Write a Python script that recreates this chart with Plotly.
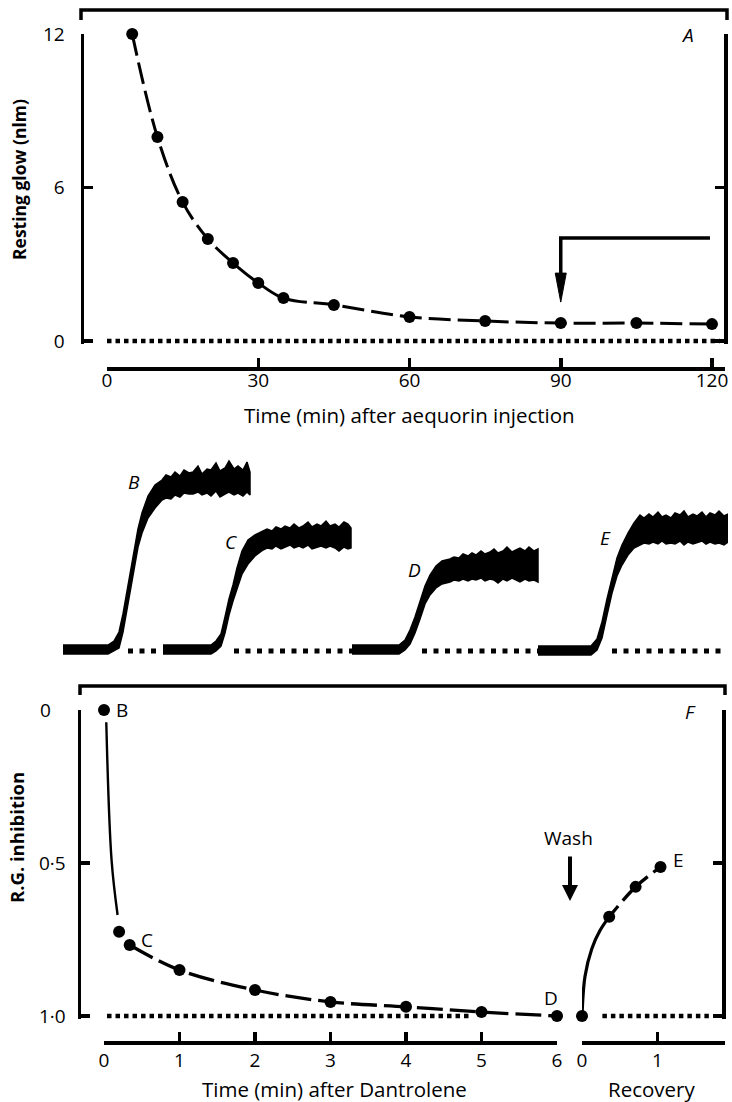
import plotly.graph_objects as go

W, H = 732, 1102


def xp(p):
    return p / W


def yp(p):
    return 1 - p / H


FONT = "Open Sans"
INK = "black"

# ---------------- Panel A : resting glow vs time ----------------
a_time = [5, 10, 15, 20, 25, 30, 35, 45, 60, 75, 90, 105, 120]
a_glow = [12.0, 7.97, 5.43, 3.99, 3.05, 2.27, 1.68, 1.41, 0.94, 0.78, 0.70, 0.70, 0.66]
a_xticks = [0, 30, 60, 90, 120]
a_yticks = [0, 6, 12]
a_zero_span = [0, 121.6]
a_arrow_x = 90
a_arrow_level = 4.03
a_arrow_tip = 1.52
a_arrow_end = 119.6

# ---------------- Records B-E : light traces (t in s, glow in a.u.) ----------------
rec_labels = ["B", "C", "D", "E"]
rec_B_t = [0, 4.5, 5.1, 5.6, 6.0, 6.5, 7.0, 7.5, 7.9, 8.5, 9.2,
           9.9, 10.3, 10.8, 11.2, 11.7, 12.1, 12.6, 13.0, 13.5, 13.9, 14.4,
           14.8, 15.3, 15.7, 16.2, 16.6, 17.1, 17.5, 18.0, 18.4, 18.7]
rec_B_hi = [0.5, 0.5, 0.9, 1.8, 3.6, 6.4, 9.3, 12.1, 13.7, 15.4, 16.5,
            17.0, 17.5, 17.3, 17.8, 17.4, 18.0, 17.7, 17.8, 18.4, 17.6, 18.1,
            18.0, 18.7, 17.9, 18.2, 18.9, 18.1, 18.4, 18.0, 18.8, 17.8]
rec_B_lo = [-0.4, -0.4, -0.1, 0.2, 1.8, 4.6, 7.5, 10.3, 11.7, 13.2, 14.2,
            15.0, 15.2, 15.1, 15.5, 15.3, 15.7, 15.6, 15.6, 15.8, 15.5, 15.7,
            15.4, 15.9, 15.3, 15.6, 15.8, 15.5, 15.7, 15.4, 15.8, 15.5]

rec_C_t = [0, 4.8, 5.3, 5.8, 6.2, 6.6, 7.0, 7.4, 7.9, 8.5, 9.2,
           10.0, 10.4, 10.9, 11.3, 11.8, 12.2, 12.7, 13.1, 13.6, 14.0, 14.5,
           14.9, 15.4, 15.8, 16.3, 16.7, 17.2, 17.6, 18.1, 18.5, 18.8]
rec_C_hi = [0.5, 0.5, 0.9, 1.6, 3.3, 5.1, 6.5, 8.2, 9.9, 11.0, 11.5,
            11.9, 12.1, 11.9, 12.3, 12.1, 12.4, 12.2, 12.6, 12.2, 12.4, 12.8,
            12.3, 12.6, 12.4, 12.9, 12.4, 12.6, 12.3, 12.8, 12.6, 12.2]
rec_C_lo = [-0.4, -0.4, -0.1, 0.4, 1.7, 3.5, 4.9, 6.2, 7.6, 8.6, 9.4,
            10.0, 10.2, 10.1, 10.4, 10.1, 10.3, 10.5, 10.2, 10.4, 10.2, 10.5,
            10.1, 10.3, 10.4, 10.2, 10.4, 10.2, 9.9, 10.3, 10.1, 10.2]

rec_D_t = [0, 4.7, 5.3, 5.8, 6.3, 6.8, 7.3, 7.8, 8.4, 9.0,
           9.8, 10.2, 10.7, 11.1, 11.6, 12.0, 12.4, 12.9, 13.3, 13.8, 14.2,
           14.6, 15.1, 15.5, 16.0, 16.4, 16.8, 17.3, 17.7, 18.2, 18.6]
rec_D_hi = [0.5, 0.5, 1.0, 2.0, 3.3, 4.9, 6.4, 7.5, 8.4, 8.9,
            9.1, 9.3, 9.2, 9.6, 9.4, 9.7, 9.5, 9.9, 9.6, 9.8, 10.1,
            9.7, 9.9, 10.3, 9.8, 10.0, 10.2, 9.9, 10.3, 9.9, 10.1]
rec_D_lo = [-0.4, -0.4, 0.0, 0.6, 1.7, 3.1, 4.6, 5.5, 6.2, 6.6,
            6.8, 7.0, 6.9, 7.1, 6.9, 7.1, 7.0, 7.2, 6.9, 7.1, 7.0,
            6.7, 7.1, 6.9, 7.2, 7.0, 6.8, 7.1, 6.9, 7.0, 6.8]

rec_E_t = [0, 5.3, 5.9, 6.4, 6.9, 7.4, 7.9, 8.4, 9.0, 9.6,
           10.2, 10.6, 11.1, 11.5, 12.0, 12.4, 12.8, 13.3, 13.7, 14.2, 14.6,
           15.0, 15.5, 15.9, 16.4, 16.8, 17.2, 17.7, 18.1, 18.6, 19.0]
rec_E_hi = [0.4, 0.4, 1.1, 2.8, 5.1, 7.3, 9.2, 10.5, 11.7, 12.7,
            13.5, 13.2, 13.6, 13.3, 13.8, 13.3, 13.5, 13.2, 13.7, 13.5, 13.9,
            13.3, 13.6, 13.4, 13.8, 13.3, 13.7, 13.5, 13.9, 13.4, 13.6]
rec_E_lo = [-0.5, -0.5, 0.0, 1.2, 3.5, 5.7, 7.4, 8.5, 9.5, 10.2,
            10.5, 10.7, 10.6, 10.8, 10.6, 10.9, 10.6, 10.7, 10.6, 10.9, 10.5,
            10.8, 10.6, 10.7, 10.9, 10.6, 10.8, 10.6, 10.7, 10.5, 10.8]

rec_dots_from = [6.5, 7.1, 7.0, 7.4]
rec_dots_to = [9.3, 18.9, 18.6, 18.8]
rec_label_t = [7.1, 6.8, 6.2, 6.7]
rec_label_y = [16.8, 10.8, 8.0, 11.2]

# ---------------- Panel F : R.G. inhibition ----------------
f_time = [0, 0.2, 0.34, 1, 2, 3, 4, 5, 6]
f_inhib = [0.0, 0.725, 0.768, 0.85, 0.915, 0.954, 0.97, 0.987, 1.0]
f_fast_t = [0.03, 0.10, 0.18]
f_fast_y = [0.04, 0.49, 0.67]
f_xticks = [0, 1, 2, 3, 4, 5, 6]
f_yticks = [0, 0.5, 1.0]
f_yticktext = ["0\u00a0\u00a0\u00a0", "0·5", "1·0"]
f_dot_span = [0.04, 4.85]

r_time = [0, 0.36, 0.71, 1.04]
r_inhib = [1.0, 0.676, 0.578, 0.513]
r_fast_t = [0.0, 0.04, 0.13, 0.24, 0.36]
r_fast_y = [1.0, 0.87, 0.78, 0.72, 0.676]
r_xticks = [0, 1]
r_dot_span = [0.27, 1.68]

point_labels = {"B": (0.24, 0.0), "C": (0.57, 0.75), "D": (5.92, 0.94)}
e_label = (1.28, 0.49)

# ---------------- figure ----------------
fig = go.Figure()

# empty traces so that the frame subplots (carrying the left/right y axes) exist
fig.add_trace(go.Scatter(x=[], y=[], xaxis="x", yaxis="y", mode="lines"))
fig.add_trace(go.Scatter(x=[], y=[], xaxis="x3", yaxis="y3", mode="lines"))

dot_line = dict(color=INK, width=4.5, dash="4.5px,4px")

# Panel A traces (x2 / y)
fig.add_trace(go.Scatter(x=a_zero_span, y=[0, 0], xaxis="x2", yaxis="y", mode="lines",
                         line=dot_line))
fig.add_trace(go.Scatter(x=a_time, y=a_glow, xaxis="x2", yaxis="y", mode="lines",
                         line=dict(color=INK, width=3, shape="spline", dash="22px,7px")))
fig.add_trace(go.Scatter(x=a_time, y=a_glow, xaxis="x2", yaxis="y", mode="markers",
                         marker=dict(color=INK, size=12), cliponaxis=False))
fig.add_trace(go.Scatter(x=[a_arrow_end, a_arrow_x, a_arrow_x],
                         y=[a_arrow_level, a_arrow_level, a_arrow_tip + 0.9],
                         xaxis="x2", yaxis="y", mode="lines",
                         line=dict(color=INK, width=3.5)))

# Records
rec_t = [rec_B_t, rec_C_t, rec_D_t, rec_E_t]
rec_hi = [rec_B_hi, rec_C_hi, rec_D_hi, rec_E_hi]
rec_lo = [rec_B_lo, rec_C_lo, rec_D_lo, rec_E_lo]
rec_origin_px = [63, 163, 352, 538]
rec_width_px = 190
for i in range(4):
    xa = "x%d" % (6 + i)
    t, hi, lo = rec_t[i], rec_hi[i], rec_lo[i]
    fig.add_trace(go.Scatter(x=t + t[::-1], y=hi + lo[::-1], xaxis=xa, yaxis="y6",
                             mode="lines", fill="toself", fillcolor=INK,
                             line=dict(color=INK, width=1.5)))
    fig.add_trace(go.Scatter(x=[rec_dots_from[i], rec_dots_to[i]], y=[-0.1, -0.1],
                             xaxis=xa, yaxis="y6", mode="lines",
                             line=dict(color=INK, width=5, dash="5px,6.5px")))

# Panel F (x4 / y3) and recovery (x5 / y3)
fig.add_trace(go.Scatter(x=f_dot_span, y=[1, 1], xaxis="x4", yaxis="y3", mode="lines",
                         line=dot_line))
fig.add_trace(go.Scatter(x=f_fast_t, y=f_fast_y, xaxis="x4", yaxis="y3", mode="lines",
                         line=dict(color=INK, width=2.4, shape="spline")))
fig.add_trace(go.Scatter(x=f_time[2:], y=f_inhib[2:], xaxis="x4", yaxis="y3", mode="lines",
                         line=dict(color=INK, width=3.3, shape="spline", dash="26px,7px")))
fig.add_trace(go.Scatter(x=f_time, y=f_inhib, xaxis="x4", yaxis="y3", mode="markers",
                         marker=dict(color=INK, size=12), cliponaxis=False))

fig.add_trace(go.Scatter(x=r_dot_span, y=[1, 1], xaxis="x5", yaxis="y3", mode="lines",
                         line=dot_line))
fig.add_trace(go.Scatter(x=r_fast_t, y=r_fast_y, xaxis="x5", yaxis="y3", mode="lines",
                         line=dict(color=INK, width=3.2, shape="spline")))
fig.add_trace(go.Scatter(x=r_time[1:], y=r_inhib[1:], xaxis="x5", yaxis="y3", mode="lines",
                         line=dict(color=INK, width=3.3, shape="spline", dash="14px,7px")))
fig.add_trace(go.Scatter(x=r_time, y=r_inhib, xaxis="x5", yaxis="y3", mode="markers",
                         marker=dict(color=INK, size=12), cliponaxis=False))

tickfont = dict(family=FONT, size=19, color=INK)


def frame_y(domain, rng, tickvals, ticktext=None, anchor="x", standoff=14):
    d = dict(domain=domain, range=rng, anchor=anchor, showline=True, linewidth=3.5,
             linecolor=INK, ticks="inside", ticklen=9, tickwidth=3.5, tickcolor=INK,
             mirror="ticks", tickvals=tickvals, showgrid=False, zeroline=False,
             tickfont=tickfont, ticklabelstandoff=standoff, fixedrange=True,
             automargin=False)
    if ticktext is not None:
        d["ticktext"] = ticktext
    return d


def time_x(domain, rng, tickvals, pos, standoff=0):
    return dict(domain=domain, range=rng, anchor="free", position=pos, showline=True,
                linewidth=3.5, linecolor=INK, ticks="inside", ticklen=9, tickwidth=3.5,
                tickcolor=INK, tickvals=tickvals, showgrid=False, zeroline=False,
                tickfont=tickfont, ticklabelstandoff=standoff, fixedrange=True,
                automargin=False)


a_px_per_min = (712 - 107) / 120
a_px_per_unit = (341 - 34) / 12
f_px_per_min = (557 - 104) / 6
f_px_per_unit = (1016 - 710) / 1.0
pad_px = 3  # room below the baseline so the dotted line is not clipped

layout = dict(
    width=W, height=H, autosize=False,
    margin=dict(l=0, r=0, t=0, b=0, pad=0, autoexpand=False),
    paper_bgcolor="white", plot_bgcolor="rgba(0,0,0,0)",
    showlegend=False,
    font=dict(family=FONT, color=INK, size=19),
    xaxis=dict(domain=[xp(84), xp(724)], anchor="y", visible=False, range=[0, 1], automargin=False),
    yaxis=frame_y([yp(341 + pad_px), yp(34)], [-pad_px / a_px_per_unit, 12], a_yticks,
                  anchor="x", standoff=12),
    xaxis2=time_x([xp(107), xp(725)], [0, (725 - 107) / a_px_per_min], a_xticks, yp(368), -6),
    xaxis3=dict(domain=[xp(81), xp(722)], anchor="y3", visible=False, range=[0, 1], automargin=False),
    yaxis3=frame_y([yp(1016 + pad_px), yp(710)], [1.0 + pad_px / f_px_per_unit, 0.0], f_yticks,
                   f_yticktext, anchor="x3", standoff=8),
    xaxis4=time_x([xp(104), xp(557)], [0, 6], f_xticks, yp(1042), 0),
    xaxis5=time_x([xp(582), xp(725)], [0, (725 - 582) / f_px_per_min], r_xticks, yp(1042), 0),
    yaxis6=dict(domain=[yp(670), yp(440)], range=[-2, 21], anchor="x6", visible=False, automargin=False),
)
for i in range(4):
    o = rec_origin_px[i]
    layout["xaxis%d" % (6 + i)] = dict(domain=[xp(o), xp(o + rec_width_px)],
                                       range=[0, rec_width_px / 10], anchor="y6", visible=False,
                                       automargin=False)
fig.update_layout(**layout)


def bracket(x0, x1, ytop, ydrop):
    return dict(type="path", xref="paper", yref="paper",
                path="M %f,%f L %f,%f L %f,%f L %f,%f" % (xp(x0), yp(ytop + ydrop), xp(x0), yp(ytop),
                                                     xp(x1), yp(ytop), xp(x1), yp(ytop + ydrop)),
                line=dict(color=INK, width=3.5))


hw = 5.5 / a_px_per_min
hl = 29 / a_px_per_unit
shapes = [
    bracket(81, 727, 10, 10),
    bracket(80, 725, 686, 9),
    dict(type="path", xref="x2", yref="y",
         path="M %f,%f L %f,%f L %f,%f Z" % (a_arrow_x - hw, a_arrow_tip + hl, a_arrow_x, a_arrow_tip,
                                              a_arrow_x + hw, a_arrow_tip + hl),
         fillcolor=INK, line=dict(color=INK, width=1)),
]
fig.update_layout(shapes=shapes)


def label(text, x, y, size=19, xref="paper", yref="paper", angle=0):
    return dict(text=text, x=x, y=y, xref=xref, yref=yref, showarrow=False,
                xanchor="center", yanchor="middle", textangle=angle,
                font=dict(size=size, family=FONT, color=INK))


ann = [
    label("<i>A</i>", xp(687), yp(35)),
    label("<i>F</i>", xp(690), yp(712)),
    label("Time (min) after aequorin injection", xp(410), yp(415), 20.5),
    label("Time (min) after Dantrolene", xp(334), yp(1089), 20.5),
    label("Recovery", xp(651), yp(1089), 20.5),
    label("<b>Resting glow (nlm)</b>", xp(19), yp(180), 17.5, angle=-90),
    label("<b>R.G. inhibition</b>", xp(16), yp(838), 18.5, angle=-90),
    label("Wash", xp(568), yp(838)),
]
for i, lab in enumerate(rec_labels):
    ann.append(label("<i>%s</i>" % lab, rec_label_t[i], rec_label_y[i],
                     xref="x%d" % (6 + i), yref="y6"))
for lab, (lx, ly) in point_labels.items():
    ann.append(label(lab, lx, ly, xref="x4", yref="y3"))
ann.append(label("E", e_label[0], e_label[1], xref="x5", yref="y3"))
ann.append(dict(text="", x=xp(570), y=yp(901), xref="paper", yref="paper",
                ax=0, ay=-46, showarrow=True, arrowhead=2, arrowwidth=4, arrowsize=0.8,
                arrowcolor=INK))
fig.update_layout(annotations=ann)

fig.write_html("out.html", config={"displayModeBar": False, "staticPlot": True},
               post_script="document.body.style.margin='0';")
